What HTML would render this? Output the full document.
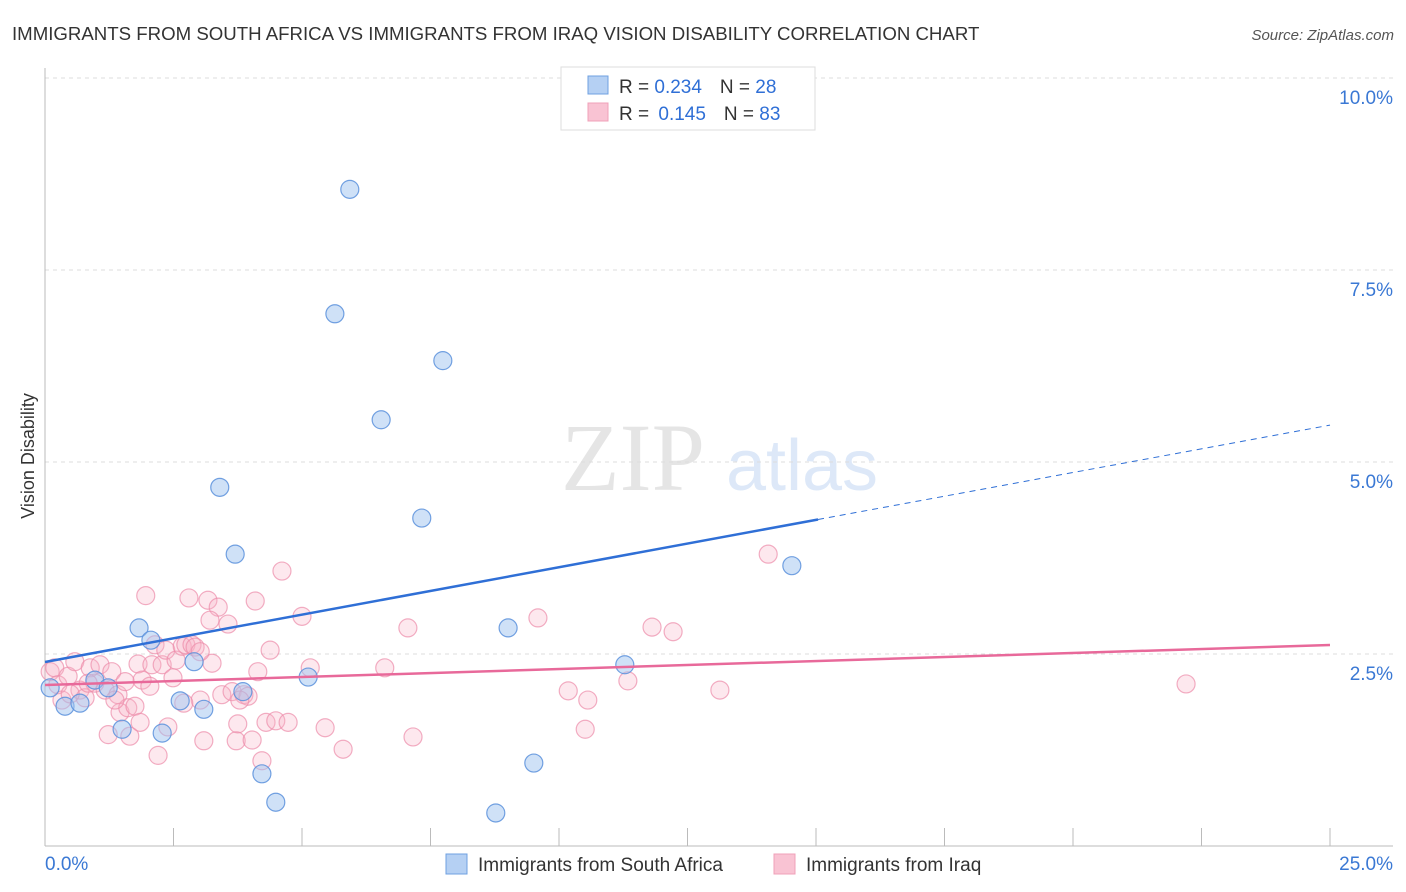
<!DOCTYPE html>
<html><head><meta charset="utf-8"><style>
body{margin:0;background:#fff;font-family:"Liberation Sans",sans-serif}
svg{display:block}
</style></head><body>
<svg id="chart" width="1406" height="892" xmlns="http://www.w3.org/2000/svg" font-family="Liberation Sans, sans-serif">
<text x="12" y="40" font-size="18.65" fill="#333">IMMIGRANTS FROM SOUTH AFRICA VS IMMIGRANTS FROM IRAQ VISION DISABILITY CORRELATION CHART</text>
<text x="1394" y="40" font-size="15" fill="#555" text-anchor="end" font-style="italic">Source: ZipAtlas.com</text>
<text transform="translate(34,456) rotate(-90)" font-size="18" fill="#333" text-anchor="middle">Vision Disability</text>
<g opacity="0.25">
<text x="633" y="490" font-size="96" font-family="Liberation Serif, serif" fill="#999" text-anchor="middle">ZIP</text>
<text x="802" y="490" font-size="72" fill="#7aa8e6" text-anchor="middle">atlas</text>
</g>
<g id="grid"></g><g id="axes"></g><g id="pts"></g><g id="lines"></g>
<g>
<rect x="561" y="67" width="254" height="63" fill="#fff" stroke="#ddd"/>
<rect x="588" y="76" width="20" height="18" fill="#b5d0f3" stroke="#6fa0e0"/>
<rect x="588" y="103" width="20" height="18" fill="#f9c3d3" stroke="#f0a0b8"/>
<text x="619" y="93" font-size="19" fill="#333">R = <tspan fill="#2f6fd6">0.234</tspan><tspan dx="18">N = </tspan><tspan fill="#2f6fd6">28</tspan></text>
<text x="619" y="120" font-size="19" fill="#333">R = <tspan dx="4" fill="#2f6fd6">0.145</tspan><tspan dx="18">N = </tspan><tspan fill="#2f6fd6">83</tspan></text>
</g>
<g>
<rect x="446" y="854" width="21" height="20" fill="#b5d0f3" stroke="#6fa0e0"/>
<text x="478" y="871" font-size="19" fill="#333">Immigrants from South Africa</text>
<rect x="774" y="854" width="21" height="20" fill="#f9c3d3" stroke="#f0a0b8"/>
<text x="806" y="871" font-size="19" fill="#333">Immigrants from Iraq</text>
</g>
</svg>
<script>
const yTicks=[2.5,5.0,7.5,10.0];
const yTickLabels=["2.5%","5.0%","7.5%","10.0%"];
const xTicks=[0,2.5,5,7.5,10,12.5,15,17.5,20,22.5,25];
const xEndLabels=["0.0%","25.0%"];
const blueX=[0.10,0.39,0.68,0.97,1.23,1.50,1.83,2.06,2.28,2.63,2.90,3.09,3.40,3.70,3.85,4.22,4.49,5.12,5.64,5.93,6.54,7.33,7.74,9.01,9.51,8.77,11.28,14.53];
const blueY=[2.06,1.82,1.86,2.16,2.06,1.52,2.84,2.68,1.47,1.89,2.40,1.78,4.67,3.80,2.01,0.94,0.57,2.20,6.93,8.55,5.55,4.27,6.32,2.84,1.08,0.43,2.36,3.65];
const pinkX=[0.10,0.19,0.25,0.33,0.45,0.58,0.68,0.78,0.88,0.97,1.07,1.17,1.23,1.30,1.42,1.46,1.56,1.61,1.65,1.75,1.81,1.89,1.96,2.04,2.08,2.14,2.20,2.28,2.35,2.39,2.49,2.55,2.67,2.74,2.80,2.86,2.92,3.02,3.09,3.17,3.25,3.37,3.44,3.56,3.64,3.72,3.75,3.87,3.95,4.03,4.09,4.14,4.22,4.30,4.38,4.49,4.61,4.73,5.00,5.16,5.45,5.80,6.61,7.06,7.16,9.59,10.18,10.51,10.56,11.34,11.81,12.22,13.13,14.07,22.20,3.21,2.70,1.85,0.84,0.49,1.36,3.02,3.79];
const pinkY=[2.27,2.32,2.10,1.90,2.21,2.40,2.03,1.93,2.32,2.12,2.36,2.03,1.45,2.27,1.97,1.74,2.14,1.80,1.43,1.82,2.37,2.16,3.26,2.08,2.36,2.62,1.18,2.36,2.55,1.55,2.19,2.42,2.60,2.62,3.23,2.62,2.59,1.90,1.37,3.20,2.38,3.11,1.97,2.89,2.01,1.37,1.59,1.97,1.95,1.38,3.19,2.27,1.11,1.61,2.55,1.63,3.58,1.61,2.99,2.32,1.54,1.26,2.32,2.84,1.42,2.97,2.02,1.52,1.90,2.15,2.85,2.79,2.03,3.80,2.11,2.94,1.86,1.61,2.12,1.98,1.90,2.53,1.90];
const blueLine=[0,2.396,25,5.48],blueSolidEnd=15.04;
const pinkLine=[0,2.096,25,2.617];
const NS="http://www.w3.org/2000/svg";
const sx=v=>45+v/25*1285, sy=v=>846-v*76.8;
function mk(t,a,p){const e=document.createElementNS(NS,t);for(const k in a)e.setAttribute(k,a[k]);p.appendChild(e);return e;}
const grid=document.getElementById('grid'),axes=document.getElementById('axes'),pts=document.getElementById('pts'),lines=document.getElementById('lines');
yTicks.forEach((v,i)=>{
 const l=mk('line',{x1:45,x2:1393,y1:sy(v),y2:sy(v),stroke:'#ddd','stroke-dasharray':'4,4'},grid);
 
 
 const t=mk('text',{x:1393,y:sy(v)+26,'font-size':19,fill:'#3a78d4','text-anchor':'end'},axes);t.textContent=yTickLabels[i];
 
 
});
const ax=mk('line',{x1:45,x2:45,y1:68,y2:846,stroke:'#bbb'},axes);


const bx=mk('line',{x1:45,x2:1393,y1:846,y2:846,stroke:'#bbb'},axes);


xTicks.forEach(v=>{const t=mk('line',{x1:sx(v),x2:sx(v),y1:828,y2:846,stroke:'#bbb'},axes);
 
 });
[[0,'start',45],[25,'end',1393]].forEach((d,i)=>{const t=mk('text',{x:d[2],y:870,'font-size':19,fill:'#3a78d4','text-anchor':d[1]},axes);t.textContent=xEndLabels[i];
 
 });
pinkX.forEach((x,i)=>{const c=mk('circle',{cx:sx(x),cy:sy(pinkY[i]),r:9,fill:'rgba(248,180,200,0.3)',stroke:'rgba(236,140,170,0.7)','stroke-width':1.2},pts);
 
 });
blueX.forEach((x,i)=>{const c=mk('circle',{cx:sx(x),cy:sy(blueY[i]),r:9,fill:'rgba(160,196,240,0.5)',stroke:'rgba(90,145,220,0.85)','stroke-width':1.2},pts);
 
 });
const by=x=>blueLine[1]+(blueLine[3]-blueLine[1])*(x-blueLine[0])/(blueLine[2]-blueLine[0]);
const b1=mk('line',{x1:sx(0),y1:sy(by(0)),x2:sx(blueSolidEnd),y2:sy(by(blueSolidEnd)),stroke:'#2f6fd6','stroke-width':2.5},lines);


const b2=mk('line',{x1:sx(blueSolidEnd),y1:sy(by(blueSolidEnd)),x2:sx(25),y2:sy(by(25)),stroke:'#2f6fd6','stroke-width':1,'stroke-dasharray':'6,5'},lines);


const p1=mk('line',{x1:sx(pinkLine[0]),y1:sy(pinkLine[1]),x2:sx(pinkLine[2]),y2:sy(pinkLine[3]),stroke:'#e8699a','stroke-width':2.5},lines);


</script>
</body></html>
